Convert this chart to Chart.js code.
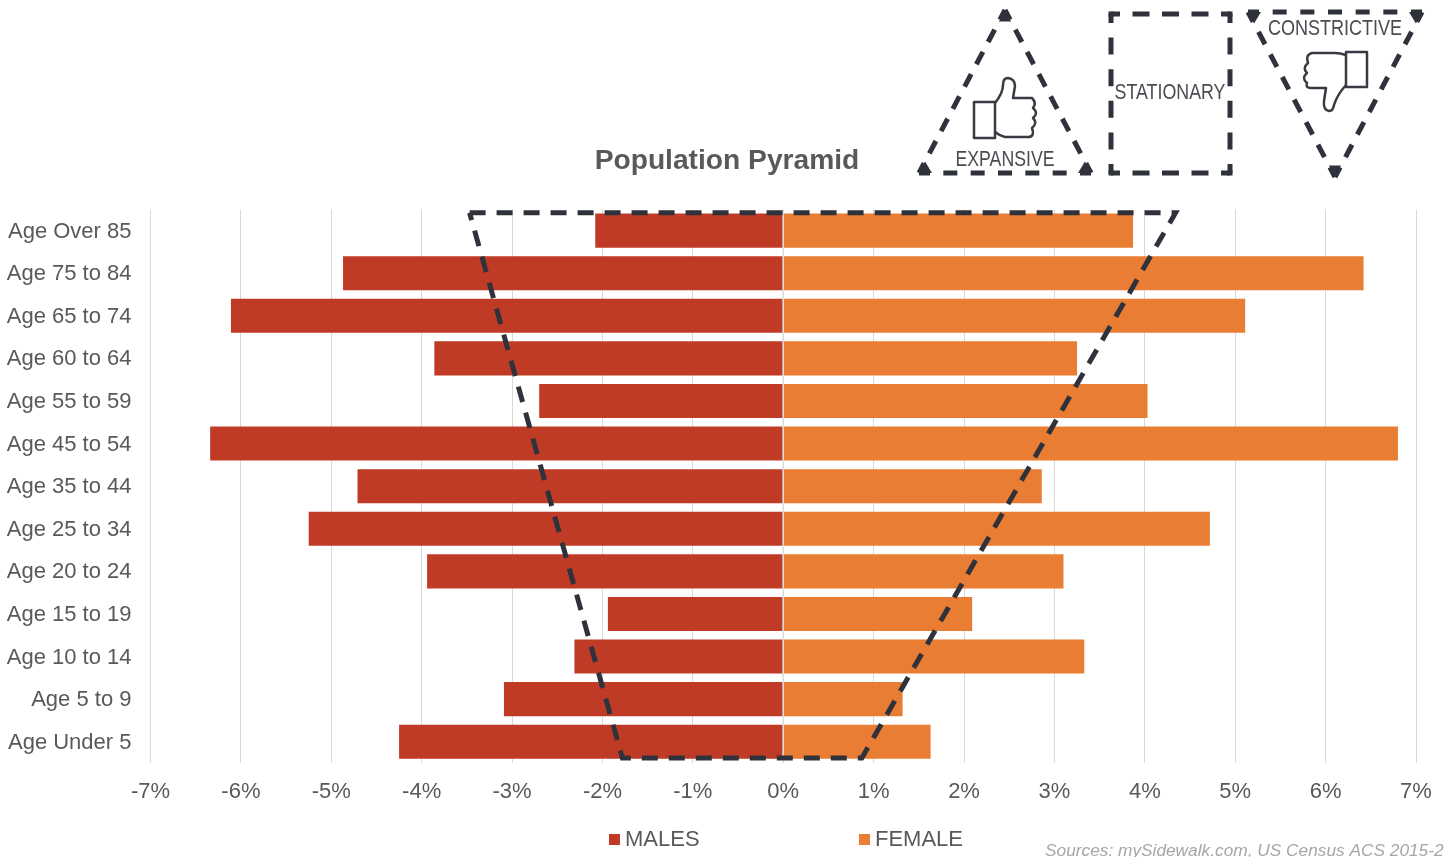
<!DOCTYPE html>
<html>
<head>
<meta charset="utf-8">
<title>Population Pyramid</title>
<script src="https://cdn.jsdelivr.net/npm/chart.js@4/dist/chart.umd.min.js"></script>
<style>
    html, body { margin: 0; padding: 0; background: #fff; overflow: hidden; }
    #wrap { width: 1445px; height: 857px; position: relative; }
</style>
</head>
<body>
<div id="wrap"><canvas id="myChart" width="1445" height="857"></canvas></div>
<script>
const categories = [
    'Age Over 85', 'Age 75 to 84', 'Age 65 to 74', 'Age 60 to 64', 'Age 55 to 59',
    'Age 45 to 54', 'Age 35 to 44', 'Age 25 to 34', 'Age 20 to 24', 'Age 15 to 19',
    'Age 10 to 14', 'Age 5 to 9', 'Age Under 5'
];
const maleValues = [-2.08, -4.87, -6.11, -3.86, -2.70, -6.34, -4.71, -5.25, -3.94, -1.94, -2.31, -3.09, -4.25];
const femaleValues = [3.87, 6.42, 5.11, 3.25, 4.03, 6.80, 2.86, 4.72, 3.10, 2.09, 3.33, 1.32, 1.63];

// dashed trapezoid laid over the bars, x in percent, y in category rows
const outlineX = [-3.47, 4.34, 0.87, -1.78, -3.47];
const outlineY = [-0.42, -0.42, 12.38, 12.38, -0.42];
// the light line at 0% runs over the bars
const zeroX = [0, 0];
const zeroY = [-0.5, 12.5];

const FONT = '"Liberation Sans", Arial, sans-serif';
const TEXT = '#595959';
const DARK = '#2f323b';
const LINE = 5;

function toPoints(xs, ys) {
    return xs.map((x, i) => ({ x: x, y: ys[i] }));
}

// each side gets whole dashes, with the gaps stretched so both ends stay even
function dashedShape(ctx, pts, tip, dash, gap, pointed) {
    ctx.save();
    ctx.strokeStyle = DARK;
    ctx.fillStyle = DARK;
    ctx.lineWidth = LINE;
    ctx.lineCap = 'butt';
    pts.forEach((p, i) => {
        const q = pts[(i + 1) % pts.length];
        const len = Math.hypot(q[0] - p[0], q[1] - p[1]);
        const n = Math.round((len - 2 * tip - gap) / (dash + gap));
        const g = (len - 2 * tip - n * dash) / (n + 1);
        ctx.setLineDash([dash, g]);
        ctx.lineDashOffset = dash - tip;
        ctx.beginPath();
        ctx.moveTo(p[0], p[1]);
        ctx.lineTo(q[0], q[1]);
        ctx.stroke();
    });
    ctx.setLineDash([]);
    pts.forEach((p, i) => {
        if (!pointed) {
            ctx.fillRect(p[0] - LINE / 2, p[1] - LINE / 2, LINE, LINE);
            return;
        }
        const a = pts[(i + 1) % pts.length];
        const b = pts[(i + pts.length - 1) % pts.length];
        const la = Math.hypot(a[0] - p[0], a[1] - p[1]);
        const lb = Math.hypot(b[0] - p[0], b[1] - p[1]);
        ctx.beginPath();
        ctx.moveTo(p[0], p[1]);
        ctx.lineTo(p[0] + (a[0] - p[0]) / la * 13, p[1] + (a[1] - p[1]) / la * 13);
        ctx.lineTo(p[0] + (b[0] - p[0]) / lb * 13, p[1] + (b[1] - p[1]) / lb * 13);
        ctx.closePath();
        ctx.fill();
    });
    ctx.restore();
}

function thumbIcons(ctx) {
    ctx.save();
    ctx.strokeStyle = '#383b43';
    ctx.lineWidth = 2.5;
    ctx.lineJoin = 'round';

    // thumb up
    ctx.strokeRect(974, 102, 21, 36);
    ctx.beginPath();
    ctx.moveTo(995, 103);
    ctx.quadraticCurveTo(1003, 93, 1003, 85);
    ctx.quadraticCurveTo(1003, 78, 1008, 78);
    ctx.quadraticCurveTo(1015, 79, 1015, 86);
    ctx.lineTo(1013, 98);
    ctx.lineTo(1032, 98);
    ctx.quadraticCurveTo(1037, 103, 1033, 108);
    ctx.quadraticCurveTo(1039, 113, 1033, 118);
    ctx.quadraticCurveTo(1038, 123, 1032, 128);
    ctx.quadraticCurveTo(1035, 136, 1029, 137);
    ctx.lineTo(1005, 137);
    ctx.quadraticCurveTo(1000, 136, 995, 132);
    ctx.stroke();

    // thumb down
    ctx.strokeRect(1346, 52, 21, 35);
    ctx.beginPath();
    ctx.moveTo(1346, 55);
    ctx.quadraticCurveTo(1340, 53, 1335, 53);
    ctx.lineTo(1312, 53);
    ctx.quadraticCurveTo(1305, 55, 1308, 63);
    ctx.quadraticCurveTo(1302, 68, 1307, 73);
    ctx.quadraticCurveTo(1301, 78, 1307, 83);
    ctx.quadraticCurveTo(1305, 88, 1311, 88);
    ctx.lineTo(1326, 88);
    ctx.lineTo(1324, 101);
    ctx.quadraticCurveTo(1323, 110, 1329, 111);
    ctx.quadraticCurveTo(1333, 111, 1334, 105);
    ctx.quadraticCurveTo(1337, 95, 1346, 85);
    ctx.stroke();
    ctx.restore();
}

// top shapes, legend and source line
const extrasPlugin = {
    id: 'extras',
    afterLayout(chart) {
        // title sits a little right of the canvas centre
        chart.titleBlock.left += 38;
    },
    afterDraw(chart) {
        const ctx = chart.ctx;
        dashedShape(ctx, [[1005, 10], [1091, 173], [919, 173]], 11, 14, 12, true);
        dashedShape(ctx, [[1111, 14], [1230, 14], [1230, 173], [1111, 173]], 9, 17, 12, false);
        dashedShape(ctx, [[1335, 177], [1248, 12], [1422, 12]], 11, 14, 12, true);
        thumbIcons(ctx);

        ctx.save();
        ctx.textBaseline = 'middle';
        ctx.textAlign = 'center';
        ctx.fillStyle = '#4a4c52';
        ctx.font = '22px ' + FONT;
        ctx.fillText('EXPANSIVE', 1005, 160, 99);
        ctx.fillText('STATIONARY', 1170, 93, 111);
        ctx.fillText('CONSTRICTIVE', 1335, 29, 134);

        ctx.textAlign = 'left';
        ctx.font = '22px ' + FONT;
        [[609, 625, 0], [859, 875, 1]].forEach(item => {
            const ds = chart.data.datasets[item[2]];
            ctx.fillStyle = ds.backgroundColor;
            ctx.fillRect(item[0], 834, 11, 11);
            ctx.fillStyle = TEXT;
            ctx.fillText(ds.label, item[1], 840);
        });

        ctx.textBaseline = 'alphabetic';
        ctx.font = 'italic 17.3px ' + FONT;
        ctx.fillStyle = '#a6a6a6';
        ctx.fillText('Sources: mySidewalk.com, US Census ACS 2015-2', 1045, 856);
        ctx.restore();
    }
};

window.onload = () => {
    const myChart = document.querySelector('#myChart').getContext('2d');
    new Chart(myChart, {
        type: 'bar',
        data: {
            labels: categories,
            datasets: [
                {
                    label: 'MALES', data: maleValues, backgroundColor: '#c03b26',
                    grouped: false, barPercentage: 0.8, categoryPercentage: 1,
                    xAxisID: 'x', yAxisID: 'y', order: 3
                },
                {
                    label: 'FEMALE', data: femaleValues, backgroundColor: '#e97d33',
                    grouped: false, barPercentage: 0.8, categoryPercentage: 1,
                    xAxisID: 'x', yAxisID: 'y', order: 3
                },
                {
                    type: 'scatter', indexAxis: 'x', data: toPoints(zeroX, zeroY), showLine: true,
                    borderColor: '#dcdcdc', borderWidth: 1.5, pointRadius: 0,
                    xAxisID: 'x', yAxisID: 'yRows', order: 2
                },
                {
                    type: 'scatter', indexAxis: 'x', data: toPoints(outlineX, outlineY), showLine: true,
                    borderColor: DARK, borderWidth: LINE, borderDash: [16, 11], pointRadius: 0,
                    borderJoinStyle: 'miter', xAxisID: 'x', yAxisID: 'yRows', order: 1
                }
            ]
        },
        options: {
            indexAxis: 'y',
            responsive: false,
            animation: false,
            layout: { padding: { left: 0, right: 29, top: 0, bottom: 0 } },
            plugins: {
                legend: { display: false },
                tooltip: { enabled: false },
                title: {
                    display: true,
                    text: 'Population Pyramid',
                    color: TEXT,
                    font: { family: FONT, size: 28.2, weight: 'bold', lineHeight: 1.2 },
                    padding: { top: 144, bottom: 31.5 }
                }
            },
            scales: {
                x: {
                    type: 'linear',
                    min: -7, max: 7,
                    grid: { color: '#d9d9d9', lineWidth: 1, drawTicks: false },
                    border: { display: false },
                    ticks: {
                        stepSize: 1, padding: 16, color: TEXT, maxRotation: 0,
                        font: { family: FONT, size: 22 },
                        callback: v => v + '%'
                    },
                    afterFit: s => { s.height = 94; s.paddingLeft = 0; s.paddingRight = 0; }
                },
                y: {
                    type: 'category',
                    grid: { display: false },
                    border: { display: false },
                    ticks: {
                        padding: 11, labelOffset: 1, color: TEXT, autoSkip: false,
                        font: { family: FONT, size: 22 }
                    },
                    afterFit: s => { s.width = 150.5; }
                },
                yRows: {
                    type: 'linear', axis: 'y', display: false, reverse: true, offset: false,
                    min: -0.5, max: 12.5
                }
            }
        },
        plugins: [extrasPlugin]
    });
};
</script>
</body>
</html>
